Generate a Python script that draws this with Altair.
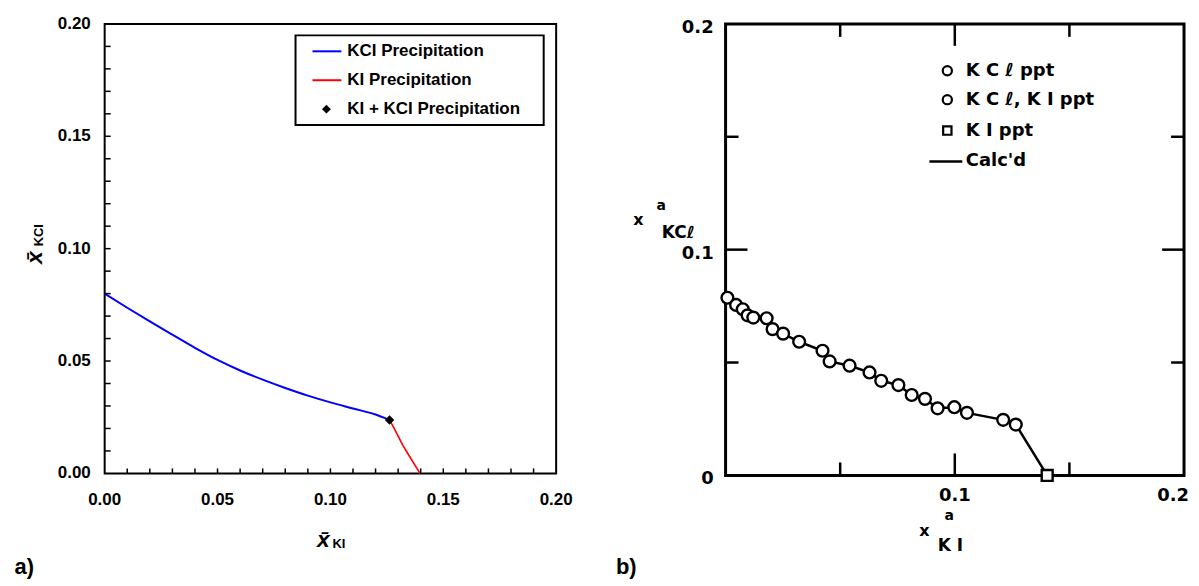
import altair as alt
import pandas as pd

# ---------------- Panel a) : calculated phase boundary ----------------
kcl_x = [0.000, 0.010, 0.020, 0.030, 0.040, 0.050, 0.060, 0.070, 0.080, 0.090, 0.100, 0.110, 0.120, 0.1262]
kcl_y = [0.0800, 0.0737, 0.0676, 0.0617, 0.0559, 0.0505, 0.0458, 0.0417, 0.0380, 0.0346, 0.0316, 0.0289, 0.0262, 0.0238]
ki_x = [0.1262, 0.1287, 0.1321, 0.1346, 0.1397]
ki_y = [0.0238, 0.0191, 0.0125, 0.0083, 0.0000]
inv_x = [0.1262]
inv_y = [0.0238]
a_minor_ticks = [0.01, 0.02, 0.03, 0.04, 0.05, 0.06, 0.07, 0.08, 0.09, 0.10,
                 0.11, 0.12, 0.13, 0.14, 0.15, 0.16, 0.17, 0.18, 0.19]
a_tick_values = [0.00, 0.05, 0.10, 0.15, 0.20]
a_tick_labels = ["0.00", "0.05", "0.10", "0.15", "0.20"]
a_legend_labels = ["KCI Precipitation", "KI Precipitation", "KI + KCI Precipitation"]

# ---------------- Panel b) : experimental data ----------------
b_x = [0.0008, 0.0046, 0.0075, 0.0096, 0.0121, 0.0179, 0.0205, 0.0251, 0.0321, 0.0423,
       0.0454, 0.0541, 0.0628, 0.0679, 0.0754, 0.0812, 0.0870, 0.0925, 0.0998, 0.1053,
       0.1211, 0.1266]
b_y = [0.0787, 0.0755, 0.0736, 0.0709, 0.0699, 0.0696, 0.0648, 0.0628, 0.0592, 0.0552,
       0.0505, 0.0486, 0.0456, 0.0419, 0.0400, 0.0356, 0.0339, 0.0297, 0.0302, 0.0277,
       0.0246, 0.0225]
b_sq_x = [0.1403]
b_sq_y = [0.0]
b_major_ticks = [0.10]
b_minor_ticks = [0.05, 0.15]
b_y_tick_values = [0.0, 0.1, 0.2]
b_y_tick_labels = ["0", "0.1", "0.2"]
b_x_tick_values = [0.1]
b_x_tick_labels = ["0.1"]
b_x_last_value = [0.2]
b_x_last_label = ["0.2"]
b_legend_labels = ["K C ℓ ppt", "K C ℓ, K I  ppt", "K I  ppt", "Calc'd"]

W1, H1 = 453, 451
W2, H2 = 460, 453

XS = alt.Scale(domain=[0, 0.2], nice=False, zero=False)
YS = alt.Scale(domain=[0, 0.2], nice=False, zero=False)

FA = "Liberation Sans"
FB = "DejaVu Sans"


def one(value=""):
    return alt.Data(values=[{"t": value}])


def txt(s, x, y, **kw):
    return alt.Chart(one(s)).mark_text(**kw).encode(
        x=alt.value(x), y=alt.value(y), text=alt.Text("t:N"))


# ---------- panel a layers ----------
df_kcl = pd.DataFrame({"x": kcl_x, "y": kcl_y})
df_ki = pd.DataFrame({"x": ki_x, "y": ki_y})
df_inv = pd.DataFrame({"x": inv_x, "y": inv_y})
df_aminor = pd.DataFrame({"v": a_minor_ticks})
df_alab = pd.DataFrame({"v": a_tick_values, "lab": a_tick_labels})

blue = alt.Chart(df_kcl).mark_line(color="#0000ff", strokeWidth=2, interpolate="monotone").encode(
    x=alt.X("x:Q", scale=XS, axis=None), y=alt.Y("y:Q", scale=YS, axis=None))
red = alt.Chart(df_ki).mark_line(color="#ff0000", strokeWidth=1.6).encode(
    x=alt.X("x:Q", scale=XS, axis=None), y=alt.Y("y:Q", scale=YS, axis=None))
inv = alt.Chart(df_inv).mark_point(shape="diamond", filled=True, color="black", size=90, opacity=1).encode(
    x=alt.X("x:Q", scale=XS, axis=None), y=alt.Y("y:Q", scale=YS, axis=None))

a_xticks = alt.Chart(df_aminor).mark_rule(color="black", strokeWidth=1.5).encode(
    x=alt.X("v:Q", scale=XS, axis=None), y=alt.value(H1), y2=alt.value(H1 - 5))
a_yticks = alt.Chart(df_aminor).mark_rule(color="black", strokeWidth=1.5).encode(
    y=alt.Y("v:Q", scale=YS, axis=None), x=alt.value(0), x2=alt.value(6))
a_xlab = alt.Chart(df_alab).mark_text(font=FA, fontSize=17, fontWeight="bold", baseline="middle", align="center").encode(
    x=alt.X("v:Q", scale=XS, axis=None), y=alt.value(H1 + 27), text="lab:N")
a_ylab = alt.Chart(df_alab).mark_text(font=FA, fontSize=17, fontWeight="bold", baseline="middle", align="right").encode(
    y=alt.Y("v:Q", scale=YS, axis=None), x=alt.value(-14), text="lab:N")

a_box = alt.Chart(one()).mark_rect(fill="white", stroke="black", strokeWidth=2).encode(
    x=alt.value(191.5), x2=alt.value(440.5), y=alt.value(11.5), y2=alt.value(101.5))
a_leg1 = alt.Chart(one()).mark_rule(color="#0000ff", strokeWidth=2).encode(
    x=alt.value(208.5), x2=alt.value(237.5), y=alt.value(27.5))
a_leg2 = alt.Chart(one()).mark_rule(color="#ff0000", strokeWidth=2).encode(
    x=alt.value(208.5), x2=alt.value(237.5), y=alt.value(56.5))
a_leg3 = alt.Chart(one()).mark_point(shape="diamond", filled=True, color="black", size=80, opacity=1).encode(
    x=alt.value(222.5), y=alt.value(85.5))
leg_kw = dict(font=FA, fontSize=17, fontWeight="bold", align="left", baseline="middle", color="black")
a_legt = [txt(a_legend_labels[i], 243.5, yy, **leg_kw) for i, yy in enumerate([27.5, 56.5, 85.5])]

a_xt1 = txt("x\u0304", 219.5, H1 + 67, font=FA, fontSize=23, fontWeight="bold", fontStyle="italic", align="center", baseline="middle")
a_xt2 = txt("KI", 235, H1 + 71, font=FA, fontSize=13, fontWeight="bold", align="center", baseline="middle")
a_yt1 = txt("x\u0304", -70, 234.5, font=FA, fontSize=23, fontWeight="bold", fontStyle="italic", align="center", baseline="middle", angle=270)
a_yt2 = txt("KCI", -66, 212, font=FA, fontSize=13, fontWeight="bold", align="center", baseline="middle", angle=270)
a_tag = txt("a)", -90.5, H1 + 94, font=FA, fontSize=22, fontWeight="bold", align="left", baseline="middle")
a_pad = txt("0", 0, -14, font=FA, fontSize=10, align="center", baseline="top", opacity=0)

panel_a = alt.layer(
    a_box, blue, red, inv, a_xticks, a_yticks, a_xlab, a_ylab,
    a_leg1, a_leg2, a_leg3, *a_legt, a_xt1, a_xt2, a_yt1, a_yt2, a_tag, a_pad
).properties(width=W1, height=H1,
             view=alt.ViewBackground(stroke="black", strokeWidth=2, fill="white"))

# ---------- panel b layers ----------
df_b = pd.DataFrame({"x": b_x + b_sq_x, "y": b_y + b_sq_y, "i": list(range(len(b_x) + 1))})
df_bc = pd.DataFrame({"x": b_x, "y": b_y})
df_bs = pd.DataFrame({"x": b_sq_x, "y": b_sq_y})
df_bmaj = pd.DataFrame({"v": b_major_ticks})
df_bmin = pd.DataFrame({"v": b_minor_ticks})
df_bylab = pd.DataFrame({"v": b_y_tick_values, "lab": b_y_tick_labels})
df_bxlab = pd.DataFrame({"v": b_x_tick_values, "lab": b_x_tick_labels})
df_bxlast = pd.DataFrame({"v": b_x_last_value, "lab": b_x_last_label})

b_line = alt.Chart(df_b).mark_line(color="black", strokeWidth=2.5).encode(
    x=alt.X("x:Q", scale=XS, axis=None), y=alt.Y("y:Q", scale=YS, axis=None), order="i:Q")
b_pts = alt.Chart(df_bc).mark_point(shape="circle", filled=True, fill="white", stroke="black",
                                    strokeWidth=2.4, size=140, opacity=1).encode(
    x=alt.X("x:Q", scale=XS, axis=None), y=alt.Y("y:Q", scale=YS, axis=None))
b_sq = alt.Chart(df_bs).mark_point(shape="square", filled=True, fill="white", stroke="black",
                                   strokeWidth=2.4, size=120, opacity=1).encode(
    x=alt.X("x:Q", scale=XS, axis=None), y=alt.Y("y:Q", scale=YS, axis=None))


def b_ticks(df, ln):
    ex = alt.X("v:Q", scale=XS, axis=None)
    ey = alt.Y("v:Q", scale=YS, axis=None)
    kw = dict(color="black", strokeWidth=2.5)
    return [
        alt.Chart(df).mark_rule(**kw).encode(x=ex, y=alt.value(H2), y2=alt.value(H2 - ln)),
        alt.Chart(df).mark_rule(**kw).encode(x=ex, y=alt.value(0), y2=alt.value(ln)),
        alt.Chart(df).mark_rule(**kw).encode(y=ey, x=alt.value(0), x2=alt.value(ln)),
        alt.Chart(df).mark_rule(**kw).encode(y=ey, x=alt.value(W2), x2=alt.value(W2 - ln)),
    ]


b_tk = b_ticks(df_bmaj, 22) + b_ticks(df_bmin, 13)

lab_kw = dict(font=FB, fontSize=18, fontWeight="bold", color="black")
b_ylab = alt.Chart(df_bylab).mark_text(align="right", baseline="middle", dy=4, **lab_kw).encode(
    y=alt.Y("v:Q", scale=YS, axis=None), x=alt.value(-12), text="lab:N")
b_xlab = alt.Chart(df_bxlab).mark_text(align="center", baseline="middle", **lab_kw).encode(
    x=alt.X("v:Q", scale=XS, axis=None), y=alt.value(H2 + 21), text="lab:N")
b_xlast = alt.Chart(df_bxlast).mark_text(align="center", baseline="middle", dx=-11, **lab_kw).encode(
    x=alt.X("v:Q", scale=XS, axis=None), y=alt.value(H2 + 21), text="lab:N")

b_l1 = alt.Chart(one()).mark_point(shape="circle", filled=False, color="black", strokeWidth=2.2, size=85, opacity=1).encode(
    x=alt.value(222.5), y=alt.value(47))
b_l2 = alt.Chart(one()).mark_point(shape="circle", filled=False, color="black", strokeWidth=2.2, size=85, opacity=1).encode(
    x=alt.value(222.5), y=alt.value(76))
b_l3 = alt.Chart(one()).mark_point(shape="square", filled=False, color="black", strokeWidth=2.2, size=70, opacity=1).encode(
    x=alt.value(222.5), y=alt.value(107))
b_l4 = alt.Chart(one()).mark_rule(color="black", strokeWidth=2.5).encode(
    x=alt.value(204.5), x2=alt.value(237.5), y=alt.value(138))
bleg_kw = dict(font=FB, fontSize=18, fontWeight="bold", align="left", baseline="middle", color="black")
b_legt = [txt(b_legend_labels[i], 241, yy, **bleg_kw) for i, yy in enumerate([47, 76, 107, 138])]

b_yt1 = txt("x", -87.5, 197, font=FB, fontSize=16, fontWeight="bold", align="center", baseline="middle")
b_yt2 = txt("a", -64.5, 183, font=FB, fontSize=14, fontWeight="bold", align="center", baseline="middle")
b_yt3 = txt("KCℓ", -47.5, 210, font=FB, fontSize=17, fontWeight="bold", align="center", baseline="middle")
b_xt1 = txt("x", 199.5, H2 + 56, font=FB, fontSize=16, fontWeight="bold", align="center", baseline="middle")
b_xt2 = txt("a", 224.5, H2 + 41, font=FB, fontSize=14, fontWeight="bold", align="center", baseline="middle")
b_xt3 = txt("K I", 225.5, H2 + 71, font=FB, fontSize=17, fontWeight="bold", align="center", baseline="middle")
b_tag = txt("b)", -110, H2 + 92, font=FA, fontSize=22, fontWeight="bold", align="left", baseline="middle")

panel_b = alt.layer(
    b_line, b_pts, b_sq, *b_tk, b_ylab, b_xlab, b_xlast,
    b_l1, b_l2, b_l3, b_l4, *b_legt,
    b_yt1, b_yt2, b_yt3, b_xt1, b_xt2, b_xt3, b_tag
).properties(width=W2, height=H2,
             view=alt.ViewBackground(stroke="black", strokeWidth=3, fill="white"))

chart = alt.hconcat(panel_a, panel_b, spacing=170, bounds="flush").properties(
    padding={"left": 5, "top": 0, "right": 0, "bottom": 0},
    background="white",
).configure_view(stroke=None)

chart.save("out.html", embed_options={"renderer": "svg", "actions": False})
